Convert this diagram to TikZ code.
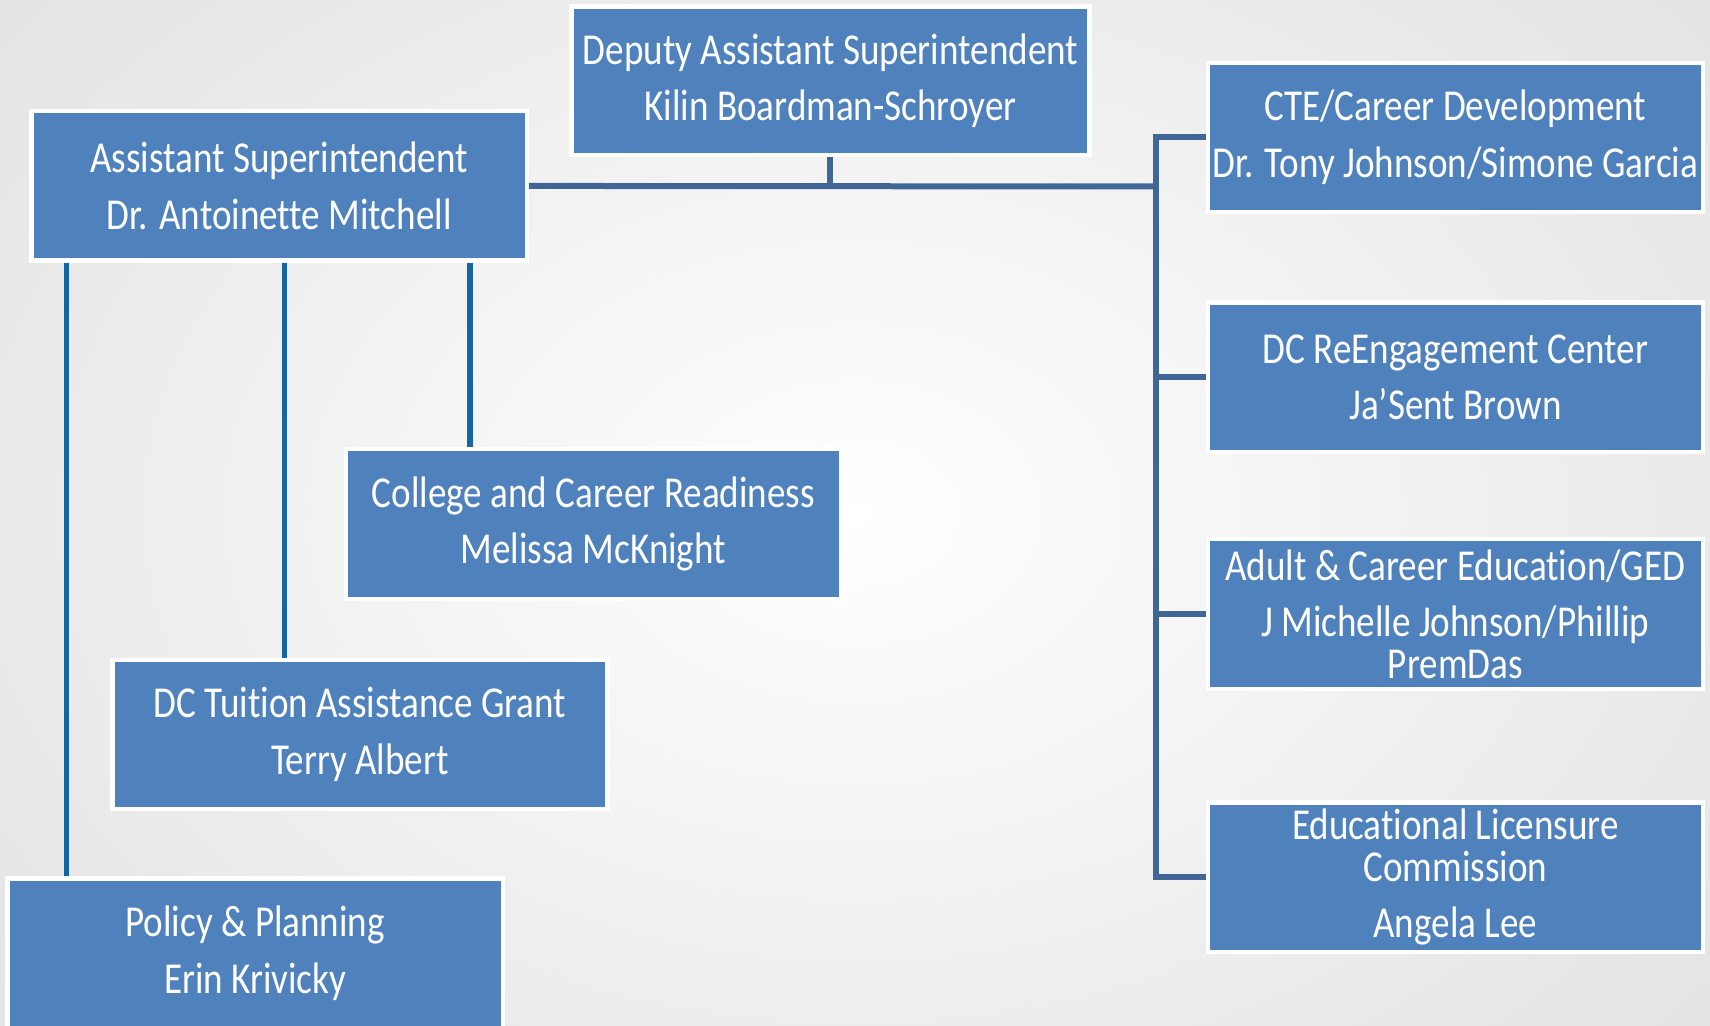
\documentclass[tikz,border=0pt]{standalone}
\usepackage{fontspec}
\setmainfont{Carlito}[FakeStretch=0.84, Ligatures=NoCommon]
\definecolor{boxblue}{HTML}{4F81BD}
\definecolor{connA}{HTML}{3F6695}
\definecolor{connB}{HTML}{1565A5}
\definecolor{bgout}{HTML}{E2E2E2}
\begin{document}
\begin{tikzpicture}[x=0.5pt,y=-0.5pt,
  orgbox/.style={draw=white, line width=2pt, fill=boxblue, text=white,
    minimum width=227pt, minimum height=68.5pt, inner sep=0pt, align=center,
    font=\fontsize{20.25pt}{19pt}\selectfont},
  topline/.style={draw=connA, line width=2.75pt, line join=miter},
  leftline/.style={draw=connB, line width=2.5pt}]
\useasboundingbox (0,0) rectangle (1568,940);
\clip (0,0) rectangle (1568,940);
\shade[inner color=white, outer color=bgout] (-300,-300) rectangle (1868,1240);

\node[orgbox, minimum width=237.5pt, minimum height=68pt] (dep) at (761.5,74) {Deputy Assistant Superintendent\\[7pt]Kilin Boardman-Schroyer};
\node[orgbox] (asst) at (256,170.5) {Assistant Superintendent\\[7pt]Dr. Antoinette Mitchell};
\node[orgbox] (cte) at (1334.5,126) {CTE/Career Development\\[7pt]Dr. Tony Johnson/Simone Garcia};
\node[orgbox] (reng) at (1334.5,346) {DC ReEngagement Center\\[7pt]Ja’Sent Brown};
\node[orgbox] (adult) at (1334.5,563) {Adult \& Career Education/GED\\[7pt]J Michelle Johnson/Phillip\\PremDas};
\node[orgbox] (elc) at (1334.5,804.5) {Educational Licensure\\Commission\\[7pt]Angela Lee};
\node[orgbox] (ccr) at (544,480.5) {College and Career Readiness\\[7pt]Melissa McKnight};
\node[orgbox] (tag) at (330,673.5) {DC Tuition Assistance Grant\\[7pt]Terry Albert};
\node[orgbox] (pol) at (234,874) {Policy \& Planning\\[7pt]Erin Krivicky};

\coordinate (j) at (1060,171);
\draw[topline] (asst.east) -- (j);
\draw[topline] (dep.south) -- (dep.south |- j);
\draw[topline] (cte.west) -- (cte.west -| j) -- (elc.west -| j) -- (elc.west);
\draw[topline] (reng.west) -- (reng.west -| j);
\draw[topline] (adult.west) -- (adult.west -| j);

\draw[leftline] ([xshift=17pt]asst.south west) -- ([xshift=17pt]asst.south west |- pol.north);
\draw[leftline] ([xshift=117pt]asst.south west) -- ([xshift=117pt]asst.south west |- tag.north);
\draw[leftline] ([xshift=202pt]asst.south west) -- ([xshift=202pt]asst.south west |- ccr.north);
\end{tikzpicture}
\end{document}
